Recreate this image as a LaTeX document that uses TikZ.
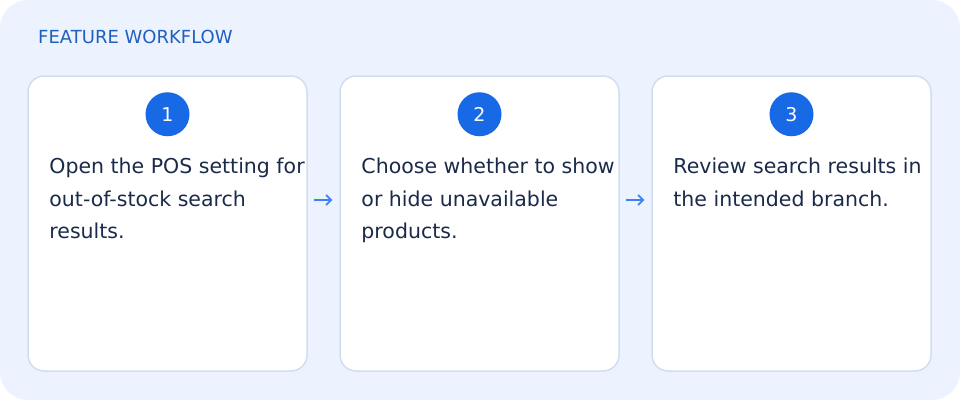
\documentclass[tikz,border=0pt]{standalone}
\usepackage{fontspec}
\setmainfont{DejaVu Sans}
\usetikzlibrary{positioning,arrows.meta}

\definecolor{panelbg}{HTML}{EDF3FE}
\definecolor{cardline}{HTML}{D0DEF4}
\definecolor{badgeblue}{HTML}{1769E6}
\definecolor{titleblue}{HTML}{1F5FBF}
\definecolor{textnavy}{HTML}{1A2B4A}
\definecolor{arrowblue}{HTML}{3B82F6}

\tikzset{
  card/.style={draw=cardline, line width=1.5pt, fill=white, rounded corners=16pt,
    minimum width=279pt, minimum height=295pt, inner sep=0pt},
  badge/.style={circle, fill=badgeblue, minimum size=44pt, inner sep=0pt,
    text=white, font=\fontsize{19}{19}\selectfont},
  cardtext/.style={anchor=north west, align=left, inner sep=0pt, text=textnavy,
    font=\fontsize{20.5}{32.5}\selectfont},
  link/.style={draw=arrowblue, line width=1.7pt, -{Straight Barb[length=5pt,width=10pt]}}
}

\begin{document}
\begin{tikzpicture}[x=1pt,y=1pt]
            \fill[panelbg, rounded corners=28pt] (0,0) rectangle (960,400);
            \useasboundingbox (0,0) rectangle (960,400);

            \node[anchor=base west, inner sep=0pt, text=titleblue,
              font=\fontsize{18}{18}\selectfont] (title) at (38,356) {FEATURE WORKFLOW};

            \node[card] (card1) at (167.5,176.5) {};
            \node[card, right=31.5pt of card1] (card2) {};
            \node[card, right=31.5pt of card2] (card3) {};

            \node[badge] (num1) at ([yshift=-39pt]card1.north) {1};
            \node[badge] (num2) at ([yshift=-39pt]card2.north) {2};
            \node[badge] (num3) at ([yshift=-39pt]card3.north) {3};

            \node[cardtext] (text1) at ([xshift=22pt, yshift=-82.5pt]card1.north west)
              {Open the POS setting for\\out-of-stock search\\results.};
            \node[cardtext] (text2) at ([xshift=22pt, yshift=-82.5pt]card2.north west)
              {Choose whether to show\\or hide unavailable\\products.};
            \node[cardtext] (text3) at ([xshift=22pt, yshift=-82.5pt]card3.north west)
              {Review search results in\\the intended branch.};

            \draw[link] ([xshift=6pt, yshift=23.5pt]card1.east) -- ([xshift=-7pt, yshift=23.5pt]card2.west);
            \draw[link] ([xshift=6pt, yshift=23.5pt]card2.east) -- ([xshift=-7pt, yshift=23.5pt]card3.west);
        \end{tikzpicture}
\end{document}
